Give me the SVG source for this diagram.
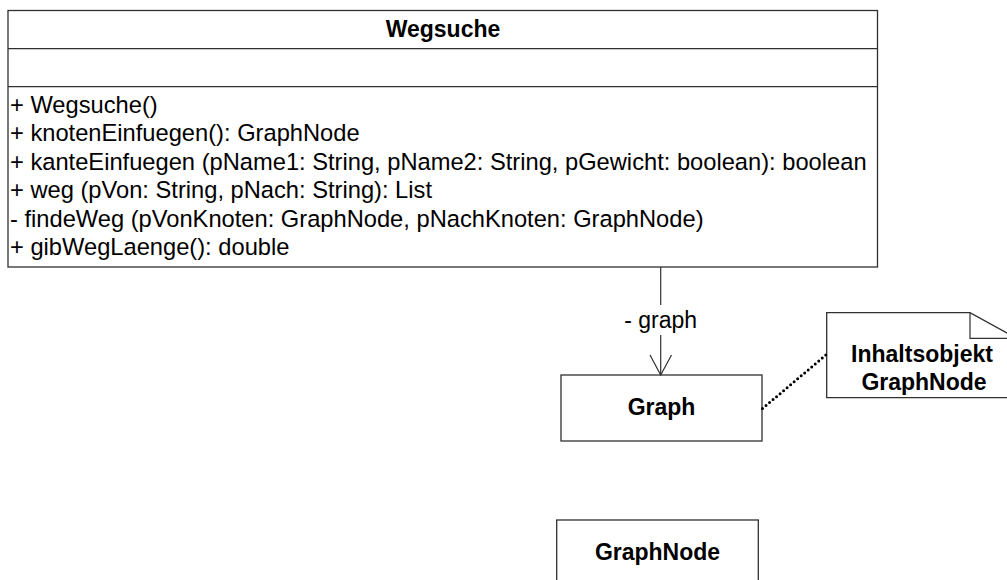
<svg xmlns="http://www.w3.org/2000/svg" width="1007" height="580" viewBox="0 0 1007 580">
  <style>
    .box { fill: #ffffff; stroke: #303030; stroke-width: 1.3; }
    .sep { stroke: #303030; stroke-width: 1.3; }
    .t { font-family: "Liberation Sans", Arial, sans-serif; font-size: 23px; fill: #000; }
    .op { font-size: 23.7px; }
    .b { font-weight: bold; text-anchor: middle; }
    .edge { fill: none; stroke: #303030; stroke-width: 1.2; }
    .dots { fill: none; stroke: #000; stroke-width: 3; stroke-linecap: round; stroke-dasharray: 0 4.6; }
  </style>
  <rect width="1007" height="580" fill="#ffffff"/>

  <!-- class Wegsuche -->
  <g id="wegsuche">
    <rect class="box" x="8" y="10.5" width="869.5" height="256.5"/>
    <line class="sep" x1="8" y1="48.7" x2="877.5" y2="48.7"/>
    <line class="sep" x1="8" y1="86.7" x2="877.5" y2="86.7"/>
    <text class="t b" x="443" y="37">Wegsuche</text>
    <text class="t op" x="10" y="113">+ Wegsuche()</text>
    <text class="t op" x="10" y="141.4">+ knotenEinfuegen(): GraphNode</text>
    <text class="t op" x="10" y="169.8">+ kanteEinfuegen (pName1: String, pName2: String, pGewicht: boolean): boolean</text>
    <text class="t op" x="10" y="198.2">+ weg (pVon: String, pNach: String): List</text>
    <text class="t op" x="10" y="226.6">- findeWeg (pVonKnoten: GraphNode, pNachKnoten: GraphNode)</text>
    <text class="t op" x="10" y="255">+ gibWegLaenge(): double</text>
  </g>

  <!-- class Graph -->
  <g id="graph">
    <rect class="box" x="561" y="375" width="201" height="66"/>
    <text class="t b" x="661.5" y="414.5">Graph</text>
  </g>

  <!-- note -->
  <g id="note">
    <path class="box" d="M826.7,312.7 H970 L1016,338 V397.7 H826.7 Z"/>
    <path class="edge" d="M970,312.7 V338.3 H1016"/>
    <text class="t b" x="922" y="362">Inhaltsobjekt</text>
    <text class="t b" x="924" y="390">GraphNode</text>
  </g>

  <!-- class GraphNode -->
  <g id="graphnode">
    <rect class="box" x="556.7" y="520" width="201.6" height="80"/>
    <text class="t b" x="657.5" y="560">GraphNode</text>
  </g>

  <!-- connectors -->
  <g id="connectors">
    <line class="edge" x1="660.7" y1="267" x2="660.7" y2="305"/>
    <line class="edge" x1="660.7" y1="335" x2="660.7" y2="375"/>
    <path class="edge" d="M650,355 L660.7,375 L671.5,355"/>
    <text class="t" x="660.7" y="328" text-anchor="middle">- graph</text>
    <path class="dots" d="M762.5,408.5 L826.7,354.3"/>
  </g>
</svg>
